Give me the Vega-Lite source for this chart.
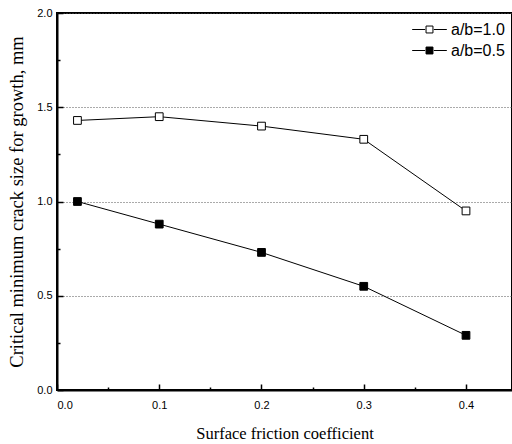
{
  "$schema": "https://vega.github.io/schema/vega-lite/v6.json",
  "autosize": "none",
  "width": 455,
  "height": 377,
  "padding": {"left": 57, "top": 13, "right": 0, "bottom": 54},
  "background": "white",
  "config": {
    "view": {"stroke": "black", "strokeWidth": 2},
    "axis": {
      "labelFont": "Liberation Sans",
      "labelFontSize": 11,
      "labelColor": "black",
      "titleFont": "Liberation Serif",
      "titleFontWeight": "normal",
      "titleColor": "black",
      "domainColor": "black",
      "domainWidth": 2,
      "tickColor": "black",
      "tickWidth": 1.5
    }
  },
  "data": {
    "values": [
      {"mu": 0.02, "size": 1.43, "series": "a/b=1.0"},
      {"mu": 0.1, "size": 1.45, "series": "a/b=1.0"},
      {"mu": 0.2, "size": 1.40, "series": "a/b=1.0"},
      {"mu": 0.3, "size": 1.33, "series": "a/b=1.0"},
      {"mu": 0.4, "size": 0.95, "series": "a/b=1.0"},
      {"mu": 0.02, "size": 1.00, "series": "a/b=0.5"},
      {"mu": 0.1, "size": 0.88, "series": "a/b=0.5"},
      {"mu": 0.2, "size": 0.73, "series": "a/b=0.5"},
      {"mu": 0.3, "size": 0.55, "series": "a/b=0.5"},
      {"mu": 0.4, "size": 0.29, "series": "a/b=0.5"}
    ]
  },
  "encoding": {
    "x": {
      "field": "mu", "type": "quantitative",
      "scale": {"domain": [0, 0.445], "nice": false},
      "axis": {
        "values": [0, 0.05, 0.1, 0.15, 0.2, 0.25, 0.3, 0.35, 0.4],
        "labelExpr": "round(datum.value*100)%10==0 ? format(datum.value, '.1f') : ''",
        "tickSize": {"condition": {"test": "round(datum.value*100)%10!=0", "value": -3}, "value": -6},
        "grid": false, "title": "Surface friction coefficient", "titleFontSize": 16.5, "titlePadding": 15, "labelPadding": 15
      }
    },
    "y": {
      "field": "size", "type": "quantitative",
      "scale": {"domain": [0, 2], "nice": false},
      "axis": {
        "values": [0, 0.25, 0.5, 0.75, 1, 1.25, 1.5, 1.75, 2],
        "labelExpr": "round(datum.value*100)%50==0 ? format(datum.value, '.1f') : ''",
        "tickSize": {"condition": {"test": "round(datum.value*100)%50!=0", "value": -3}, "value": -6},
        "grid": true, "gridDash": [1, 2], "gridColor": "#555", "gridWidth": 1,
        "gridOpacity": {"condition": {"test": "round(datum.value*100)%50!=0", "value": 0}, "value": 1},
        "title": "Critical minimum crack size for growth, mm", "titleFontSize": 18.5, "titlePadding": 10, "labelPadding": 11
      }
    }
  },
  "layer": [
    {
      "mark": {"type": "line", "color": "black", "strokeWidth": 1},
      "encoding": {"detail": {"field": "series"}}
    },
    {
      "mark": {"type": "point", "shape": "square", "filled": true, "stroke": "black", "strokeWidth": 1, "size": 60, "opacity": 1},
      "encoding": {
        "fill": {
          "field": "series", "type": "nominal",
          "scale": {"domain": ["a/b=1.0", "a/b=0.5"], "range": ["white", "black"]},
          "legend": {
            "title": null,
            "orient": "top-right",
            "offset": 7,
            "labelFont": "Liberation Sans",
            "labelFontSize": 16,
            "labelColor": "black",
            "symbolType": "M-2,0H-0.5M0.5,0H2M-0.4,-0.4H0.4V0.4H-0.4Z",
            "symbolSize": 300,
            "symbolStrokeColor": "black",
            "symbolStrokeWidth": 1,
            "labelOffset": 12,
            "rowPadding": 3
          }
        }
      }
    }
  ]
}
